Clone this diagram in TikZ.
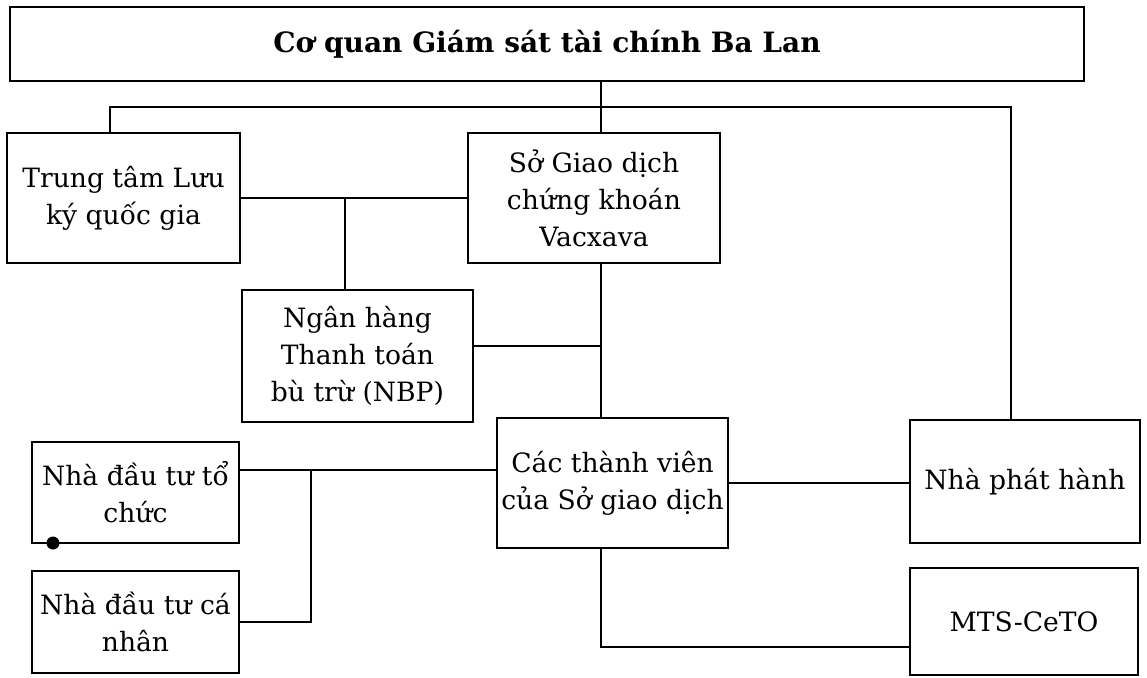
\documentclass[tikz,border=0pt]{standalone}
\usepackage{fontspec}
\setmainfont{DejaVu Serif}
\usetikzlibrary{positioning,calc}
\tikzset{
  box/.style={draw=black,line width=1.2pt,fill=white,align=center,inner sep=1pt,
    font=\fontsize{13.3}{18.5}\selectfont},
  link/.style={draw=black,line width=1.2pt},
}

\begin{document}
\begin{tikzpicture}[x=0.5pt,y=-0.5pt]
\useasboundingbox (0,0) rectangle (1147,677);
% boxes
\node[box,minimum width=537pt,minimum height=37pt,font=\fontsize{14}{16}\selectfont\bfseries] (csgs) at (547,44) {Cơ quan Giám sát tài chính Ba Lan};
\node[box,minimum width=116.5pt,minimum height=65pt] (ttlk) at (123.5,198) {Trung tâm Lưu\\ký quốc gia};
\node[box,minimum width=126pt,minimum height=65pt] (sgd) at (594,198) {Sở Giao dịch\\chứng khoán\\Vacxava};
\node[box,minimum width=115.5pt,minimum height=66pt] (nh) at (357.5,356) {Ngân hàng\\Thanh toán\\bù trừ (NBP)};
\node[box,minimum width=115.5pt,minimum height=65pt] (tv) at (612.5,483) {Các thành viên\\của Sở giao dịch};
\node[box,minimum width=115pt,minimum height=61.5pt] (nph) at (1025,481.5) {Nhà phát hành};
\node[box,minimum width=114pt,minimum height=53.5pt] (mts) at (1024,621.5) {MTS-CeTO};
\node[box,minimum width=103.5pt,minimum height=50.5pt] (tc) at (135.5,492.5) {Nhà đầu tư tổ\\chức};
\node[box,minimum width=103.5pt,minimum height=51pt] (cn) at (135.5,622) {Nhà đầu tư cá\\nhân};
% junctions
\coordinate (trunk) at (601,107);
\coordinate (busL) at (110,107);
\coordinate (busR) at (1011,107);
\coordinate (jTT) at (345,198);
\coordinate (jNH) at (601,346);
\coordinate (jInv) at (311,470);
\coordinate (jMTS) at (601,647);
% connectors
\draw[link] (csgs.south -| trunk) -- (sgd.north -| trunk);
\draw[link] (ttlk.north -| busL) -- (busL) -- (busR) -- (nph.north -| busR);
\draw[link] (ttlk.east) -- (sgd.west);
\draw[link] (jTT) -- (nh.north -| jTT);
\draw[link] (sgd.south -| trunk) -- (tv.north -| trunk);
\draw[link] (jNH -| nh.east) -- (jNH);
\draw[link] (jInv -| tc.east) -- (jInv -| tv.west);
\draw[link] (jInv) |- (cn.east);
\draw[link] (tv.east) -- (tv.east -| nph.west);
\draw[link] (tv.south -| trunk) -- (jMTS) -- (jMTS -| mts.west);
% ink blot
\fill (53,543) circle (6.5);
\end{tikzpicture}
\end{document}
